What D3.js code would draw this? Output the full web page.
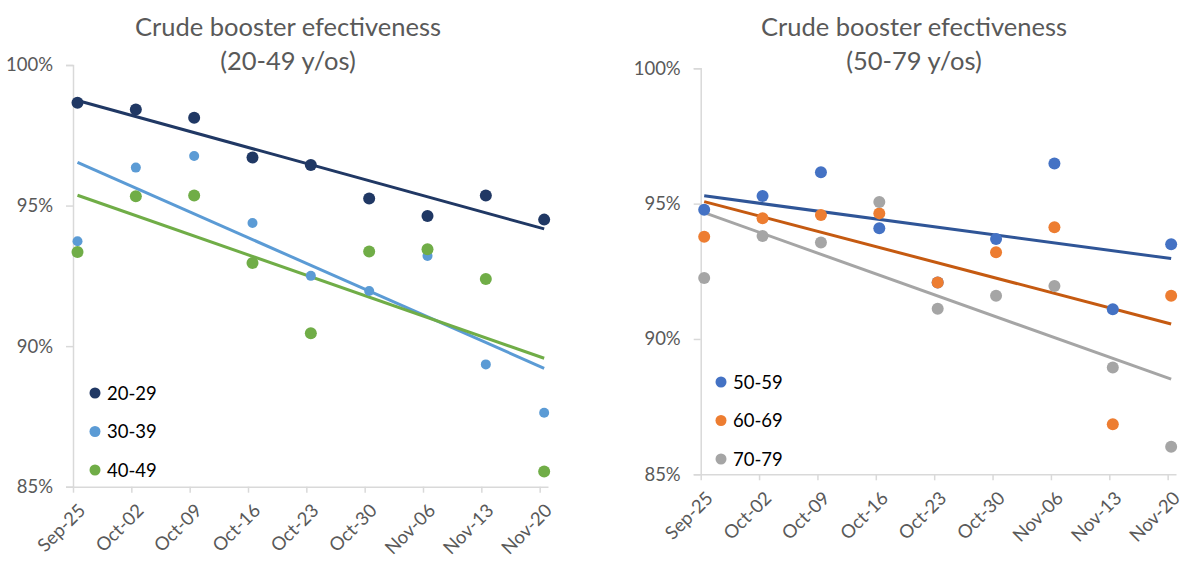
<!DOCTYPE html>
<html>
<head>
<meta charset="utf-8">
<script src="https://cdn.jsdelivr.net/npm/d3@7"></script>
<style>
  body { margin: 0; background: #fff; }
  text { font-family: Lato, "Open Sans", sans-serif; }
</style>
</head>
<body>
<div id="chart"></div>
<script>
// week labels shared by both panels
var weeks = ["Sep-25","Oct-02","Oct-09","Oct-16","Oct-23","Oct-30","Nov-06","Nov-13","Nov-20"];

// 20-49 panel
var young = ["20-29","30-39","40-49"];
var v2029 = [98.66, 98.42, 98.12, 96.71, 96.44, 95.25, 94.63, 95.36, 94.50];
var v3039 = [93.73, 96.35, 96.76, 94.38, 92.50, 91.96, 93.21, 89.35, 87.63];
var v4049 = [93.35, 95.33, 95.36, 92.96, 90.46, 93.37, 93.45, 92.39, 85.54];

// 50-79 panel
var old = ["50-59","60-69","70-79"];
var v5059 = [94.77, 95.28, 96.16, 94.09, 92.09, 93.69, 96.48, 91.10, 93.50];
var v6069 = [93.78, 94.46, 94.58, 94.64, 92.09, 93.20, 94.13, 86.85, 91.60];
var v7079 = [92.25, 93.80, 93.56, 95.06, 91.12, 91.60, 91.96, 88.95, 86.02];

var yTicks = [85, 90, 95, 100];

var W = 1200, H = 575;
var svg = d3.select("#chart").append("svg")
    .attr("width", W).attr("height", H);

var parse = d3.timeParse("%b-%d-%Y");
var dates = weeks.map(function(w){ return parse(w + "-2021"); });
var endDate = d3.timeDay.offset(dates[dates.length-1], 1);

//draws one panel
function panel(opt)
{
    var x = d3.scaleTime().domain([dates[0], endDate]).range([opt.left, opt.right]);
    var y = d3.scaleLinear().domain([85, 100]).range([opt.bottom, opt.top]);
    var g = svg.append("g");

    // title
    g.append("text")
        .attr("x", opt.cx).attr("y", 36)
        .attr("text-anchor", "middle")
        .style("font-size", "25.5px").style("fill", "#595959")
        .text("Crude booster efectiveness");
    g.append("text")
        .attr("x", opt.cx).attr("y", 70)
        .attr("text-anchor", "middle")
        .style("font-size", "25.5px").style("fill", "#595959")
        .text(opt.sub);

    // y axis
    var ya = g.append("g")
        .attr("transform", "translate(" + opt.left + ",0)")
        .call(d3.axisLeft(y).tickValues(yTicks).tickSize(7).tickPadding(13)
              .tickFormat(function(d){ return d + "%"; }));
    ya.select(".domain").attr("stroke", "#d9d9d9").attr("stroke-width", 1.5);
    ya.selectAll(".tick line").attr("stroke", "#d9d9d9").attr("stroke-width", 1.5);
    ya.selectAll(".tick text")
        .style("font-size", "18.5px").style("fill", "#595959").style("font-family", "Lato");

    // x axis
    var xa = g.append("g")
        .attr("transform", "translate(0," + opt.bottom + ")")
        .call(d3.axisBottom(x).tickValues(dates).tickSize(6).tickSizeOuter(0)
              .tickFormat(function(d, i){ return weeks[i]; }));
    xa.select(".domain").attr("stroke", "#d9d9d9").attr("stroke-width", 1.5);
    xa.selectAll(".tick line").attr("stroke", "#d9d9d9").attr("stroke-width", 1.5);
    xa.selectAll(".tick text")
        .style("font-size", "18.5px").style("fill", "#595959").style("font-family", "Lato")
        .attr("text-anchor", "end")
        .attr("dy", null)
        .attr("y", null)
        .attr("transform", "translate(13,25) rotate(-45)");

    var shift = opt.shift;
    opt.series.forEach(function(s, k)
    {
        var pts = s.values.map(function(v, i){ return {i: i, d: dates[i], v: v}; });
        // least squares trendline like excel
        var mx = d3.mean(pts, function(p){ return p.i; });
        var my = d3.mean(pts, function(p){ return p.v; });
        var sxy = d3.sum(pts, function(p){ return (p.i - mx) * (p.v - my); });
        var sxx = d3.sum(pts, function(p){ return (p.i - mx) * (p.i - mx); });
        var b = sxy / sxx, a = my - b * mx;
        var ends = [pts[0], pts[pts.length-1]].map(function(p){ return {d: p.d, v: a + b * p.i}; });
        g.append("path")
            .datum(ends)
            .attr("fill", "none")
            .attr("stroke", s.line)
            .attr("stroke-width", 3)
            .attr("d", d3.line()
                .x(function(p){ return x(p.d) + shift; })
                .y(function(p){ return y(p.v); }));
        s.pts = pts;
    });
    opt.series.forEach(function(s)
    {
        g.selectAll(null).data(s.pts).enter().append("circle")
            .attr("cx", function(p){ return x(p.d) + shift; })
            .attr("cy", function(p){ return y(p.v); })
            .attr("r", s.r)
            .attr("fill", s.dot);
    });

    // legend
    opt.series.forEach(function(s, k)
    {
        var ly = opt.legY + k * 38.5;
        g.append("circle").attr("cx", opt.legX).attr("cy", ly).attr("r", 5.5).attr("fill", s.dot);
        g.append("text").attr("x", opt.legX + 12).attr("y", ly + 6.5)
            .style("font-size", "18.5px").style("fill", "#000").text(s.name);
    });
}

panel({
    left: 73, right: 548, top: 65, bottom: 486.7, cx: 288, shift: 4.5,
    sub: "(20-49 y/os)", legX: 95, legY: 393,
    series: [
        {name: young[0], values: v2029, dot: "#203864", line: "#203864", r: 6},
        {name: young[1], values: v3039, dot: "#5b9bd5", line: "#5b9bd5", r: 5},
        {name: young[2], values: v4049, dot: "#70ad47", line: "#70ad47", r: 6}
    ]
});

panel({
    left: 700.7, right: 1176, top: 68.3, bottom: 474.3, cx: 914, shift: 3.5,
    sub: "(50-79 y/os)", legX: 721, legY: 382,
    series: [
        {name: old[0], values: v5059, dot: "#4472c4", line: "#2f5597", r: 6},
        {name: old[1], values: v6069, dot: "#ed7d31", line: "#c55a11", r: 6},
        {name: old[2], values: v7079, dot: "#a5a5a5", line: "#a5a5a5", r: 6}
    ]
});
</script>
</body>
</html>
